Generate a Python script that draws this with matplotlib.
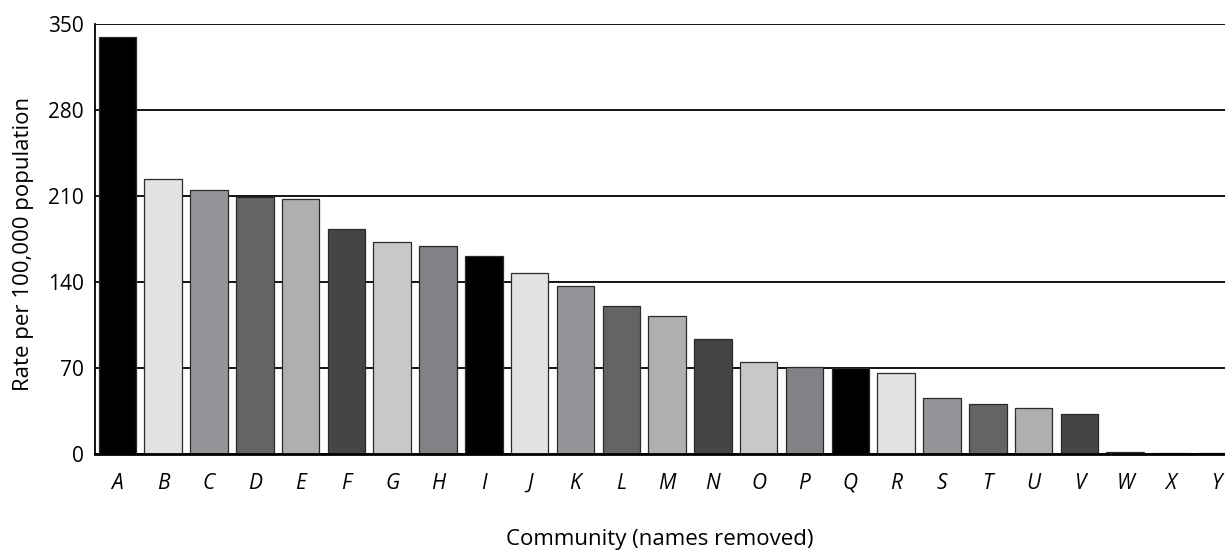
import matplotlib
matplotlib.use("Agg")
import matplotlib.pyplot as plt

communities = list("ABCDEFGHIJKLMNOPQRSTUVWXY")
rates = [339, 223.5, 215, 209, 207.2, 182.7, 172.1, 169.4, 161, 146.9, 136.8,
         120.5, 112.1, 93.6, 74.5, 70.7, 70, 65.3, 45.4, 40.5, 37, 32.4, 1.0, 0.5, 0.3]
palette = ["#000000", "#e1e2e3", "#939598", "#636466", "#adafb1", "#454547",
           "#c7c8ca", "#808285"]
y_ticks = [0, 70, 140, 210, 280, 350]

plt.rcParams['font.family'] = ['Open Sans', 'DejaVu Sans']

fig = plt.figure(figsize=(12.25, 5.5), dpi=100)
ax = fig.add_axes([95/1225, 96.5/550, (1225-95)/1225, (453.5-24)/550])

colors = [palette[i % len(palette)] for i in range(len(communities))]
x = list(range(len(communities)))
ax.bar(x, rates, width=0.82, color=colors, edgecolor="#2a2a2a", linewidth=0.9, zorder=3)

ax.set_xlim(-0.49, 24.18)
ax.set_ylim(0, 350)
ax.set_yticks(y_ticks)
ax.set_yticklabels([str(v) for v in y_ticks], fontsize=15)
ax.set_xticks(x)
ax.set_xticklabels(communities, fontsize=15, style='italic')
ax.tick_params(axis='both', length=0)
ax.tick_params(axis='x', pad=14)
ax.tick_params(axis='y', pad=8)

ax.yaxis.grid(True, color="#000000", linewidth=1.3, zorder=0)
ax.set_axisbelow(True)

ax.spines["right"].set_visible(False)
ax.spines["top"].set_visible(False)
ax.spines["left"].set_linewidth(1.3)
ax.spines["bottom"].set_linewidth(2.0)
ax.spines["bottom"].set_zorder(4)

fig.text(24/1225, 1 - 244/550, "Rate per 100,000 population", fontsize=16,
         rotation=90, ha="center", va="center")
fig.text(660/1225, 1 - 540/550, "Community (names removed)", fontsize=16,
         ha="center", va="center")

fig.savefig("out.png", dpi=100)
